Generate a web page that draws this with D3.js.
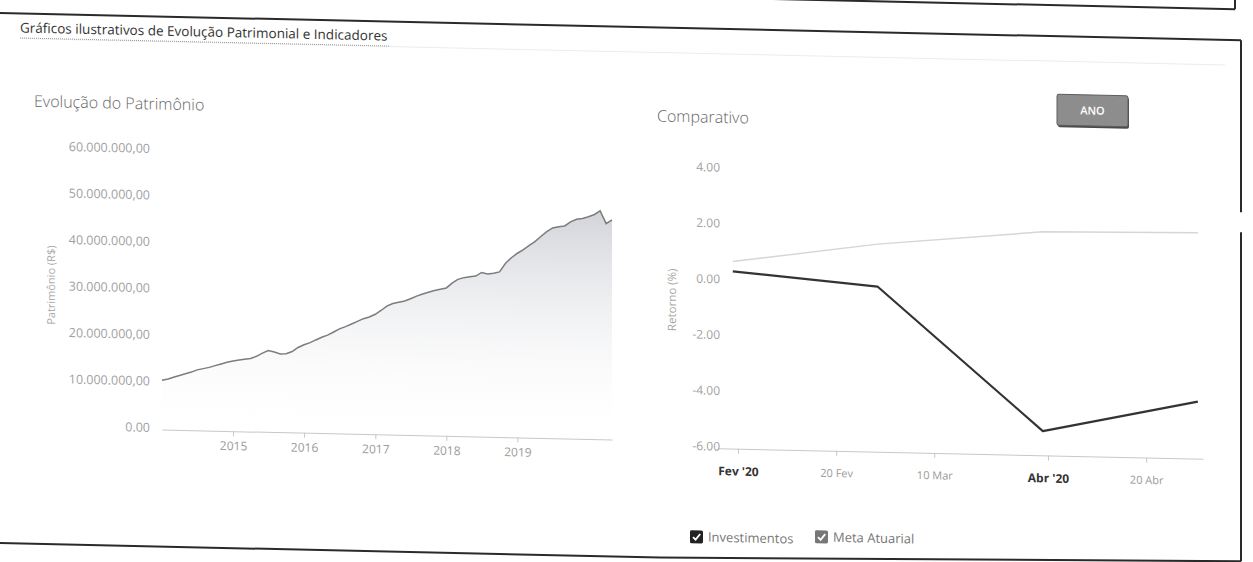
<!DOCTYPE html>
<html>
<head>
<meta charset="utf-8">
<script src="https://cdn.jsdelivr.net/npm/d3@7"></script>
<style>
  body { margin: 0; background: #fff; }
  svg { display: block; font-family: "Open Sans", "Noto Sans", sans-serif; }
</style>
</head>
<body>
<svg id="c" width="1253" height="562"></svg>
<script>
// ---------------- DATA ----------------
// Evolução do Patrimônio: monthly values (R$ millions), Jan 2014 .. May 2020
const patrimonioStart = "2014-01-01";
const patrimonioValues = [
  10.6, 10.9, 11.3, 11.7, 12.1, 12.5, 13.0, 13.3, 13.6, 14.0, 14.4, 14.8,
  15.1, 15.3, 15.5, 15.7, 16.2, 16.9, 17.5, 17.2, 16.8, 16.9, 17.4, 18.3,
  18.9, 19.4, 20.0, 20.6, 21.1, 21.8, 22.5, 23.0, 23.6, 24.2, 24.8, 25.2,
  25.8, 26.7, 27.6, 28.2, 28.5, 28.8, 29.3, 29.9, 30.4, 30.8, 31.2, 31.5,
  31.8, 32.9, 33.7, 34.1, 34.3, 34.5, 35.3, 35.0, 35.2, 35.5, 37.4, 38.6,
  39.6, 40.4, 41.3, 42.2, 43.3, 44.4, 45.2, 45.5, 45.7, 46.6, 47.2, 47.4,
  47.8, 48.3, 49.1, 46.4, 47.2
];
const patrimonioTicks = [0, 10, 20, 30, 40, 50, 60];
const patrimonioTickLabels = ["0.00", "10.000.000,00", "20.000.000,00", "30.000.000,00",
  "40.000.000,00", "50.000.000,00", "60.000.000,00"];
const yearTicks = ["2015", "2016", "2017", "2018", "2019"];

// Comparativo
const compDates = ["2020-01-31", "2020-02-28", "2020-03-31", "2020-04-30"];
const investimentos = [0.35, -0.08, -5.13, -3.95];
const metaAtuarial = [0.70, 1.44, 2.01, 2.10];
const retornoTicks = [4, 2, 0, -2, -4, -6];
const retornoTickLabels = ["4.00", "2.00", "0.00", "-2.00", "-4.00", "-6.00"];
const compTickDates = ["2020-02-01", "2020-02-20", "2020-03-10", "2020-04-01", "2020-04-20"];
const compTickLabels = ["Fev '20", "20 Fev", "10 Mar", "Abr '20", "20 Abr"];
const compTickBold = [true, false, false, true, false];
const legendNames = ["Investimentos", "Meta Atuarial"];

// ---------------- DRAW ----------------
const parse = d3.timeParse("%Y-%m-%d");
const svg = d3.select("#c");
const FONT = '"Open Sans", "Noto Sans", sans-serif';

const defs = svg.append("defs");
const grad = defs.append("linearGradient").attr("id", "areaGrad")
  .attr("x1", 0).attr("y1", 0).attr("x2", 0).attr("y2", 1);
grad.append("stop").attr("offset", "0%").attr("stop-color", "#c6c9d0").attr("stop-opacity", 0.8);
grad.append("stop").attr("offset", "100%").attr("stop-color", "#ffffff").attr("stop-opacity", 0.05);

// whole scanned page is slightly sheared
const g = svg.append("g").attr("transform", "skewY(1.26)");

// frame
const frame = g.append("g").attr("fill", "none").attr("stroke", "#2a2a2a").attr("stroke-width", 2);
frame.append("line").attr("x1", 0).attr("x2", 1235).attr("y1", -18).attr("y2", -18);
frame.append("line").attr("x1", 1235).attr("x2", 1235).attr("y1", -40).attr("y2", -18);
frame.append("line").attr("x1", 0).attr("x2", 1241).attr("y1", 13).attr("y2", 13);
frame.append("line").attr("x1", 1241).attr("x2", 1241).attr("y1", 13).attr("y2", 185);
frame.append("line").attr("x1", 1241).attr("x2", 1241).attr("y1", 205).attr("y2", 534);
frame.append("polyline").attr("points", "0,543 660,543 1241,534");

// tab title
g.append("text").attr("x", 20).attr("y", 32).attr("font-size", 13.5).attr("fill", "#333")
  .attr("font-family", FONT).text("Gráficos ilustrativos de Evolução Patrimonial e Indicadores");
g.append("line").attr("x1", 20).attr("x2", 1225).attr("y1", 38).attr("y2", 38)
  .attr("stroke", "#ececec").attr("stroke-width", 1);
g.append("line").attr("x1", 20).attr("x2", 390).attr("y1", 37.5).attr("y2", 37.5)
  .attr("stroke", "#9a9a9a").attr("stroke-width", 1).attr("stroke-dasharray", "1,1");

// ===== Left chart: Evolução do Patrimônio =====
g.append("text").attr("x", 34).attr("y", 106).attr("font-size", 16).attr("fill", "#666")
  .attr("font-family", FONT).attr("font-weight", 300).text("Evolução do Patrimônio");

const xL = d3.scaleTime().domain([parse("2014-01-01"), parse("2020-05-01")]).range([162, 612]);
const yL = d3.scaleLinear().domain([0, 60]).range([426, 147]);
const start = parse(patrimonioStart);
const pdata = patrimonioValues.map((v, i) => ({ date: d3.timeMonth.offset(start, i), v }));

g.append("path").datum(pdata)
  .attr("d", d3.area().x(d => xL(d.date)).y0(yL(0)).y1(d => yL(d.v)))
  .attr("fill", "url(#areaGrad)");
g.append("path").datum(pdata)
  .attr("d", d3.line().x(d => xL(d.date)).y(d => yL(d.v)))
  .attr("fill", "none").attr("stroke", "#7d7d7d").attr("stroke-width", 1.5);

const gxL = g.append("g").attr("transform", `translate(0,${yL(0)})`)
  .call(d3.axisBottom(xL)
    .tickValues(yearTicks.map(y => parse(y + "-01-01")))
    .tickFormat((d, i) => yearTicks[i])
    .tickSize(5).tickSizeOuter(0).tickPadding(5.5));
gxL.attr("font-family", FONT).attr("font-size", 12);
gxL.select(".domain").attr("stroke", "#c8c8c8");
gxL.selectAll(".tick line").attr("stroke", "#c8c8c8");
gxL.selectAll(".tick text").attr("fill", "#9a9a9a");

const gyL = g.append("g").attr("transform", "translate(152,0)")
  .call(d3.axisLeft(yL).tickValues(patrimonioTicks)
    .tickFormat((d, i) => patrimonioTickLabels[i]).tickSize(0).tickPadding(2));
gyL.attr("font-family", FONT).attr("font-size", 12.5);
gyL.select(".domain").remove();
gyL.selectAll(".tick text").attr("fill", "#a0a0a0").attr("y", -2);

g.append("text").attr("transform", "translate(55,284) rotate(-90)")
  .attr("text-anchor", "middle").attr("font-size", 11).attr("fill", "#aaa")
  .attr("font-family", FONT).text("Patrimônio (R$)");

// ===== Right chart: Comparativo =====
g.append("text").attr("x", 657).attr("y", 107).attr("font-size", 16).attr("fill", "#666")
  .attr("font-family", FONT).attr("font-weight", 300).text("Comparativo");

// ANO button
g.append("rect").attr("x", 1058).attr("y", 73).attr("width", 71).attr("height", 31).attr("rx", 2)
  .attr("fill", "#4a4a4a");
g.append("rect").attr("x", 1057).attr("y", 71).attr("width", 71).attr("height", 31).attr("rx", 2)
  .attr("fill", "#8d8d8d").attr("stroke", "#5e5e5e").attr("stroke-width", 1);
g.append("text").attr("x", 1092.5).attr("y", 90.5).attr("text-anchor", "middle")
  .attr("font-size", 11).attr("font-weight", 600).attr("fill", "#fff")
  .attr("font-family", FONT).text("ANO");

const xR = d3.scaleTime().domain([parse("2020-01-28"), parse("2020-05-01")]).range([717.3, 1203]);
const yR = d3.scaleLinear().domain([-6, 4]).range([432.4, 153.4]);

const gxR = g.append("g").attr("transform", `translate(0,${yR(-6)})`)
  .call(d3.axisBottom(xR)
    .tickValues(compTickDates.map(parse))
    .tickFormat((d, i) => compTickLabels[i])
    .tickSize(5).tickSizeOuter(0).tickPadding(13.5));
gxR.attr("font-family", FONT).attr("font-size", 12);
gxR.select(".domain").attr("stroke", "#c8c8c8");
gxR.selectAll(".tick line").attr("stroke", "#c8c8c8");
gxR.selectAll(".tick text")
  .attr("fill", (d, i) => compTickBold[i] ? "#333" : "#9a9a9a")
  .attr("font-size", (d, i) => compTickBold[i] ? 12 : 11)
  .attr("font-weight", (d, i) => compTickBold[i] ? 700 : 400);

const gyR = g.append("g").attr("transform", "translate(722,0)")
  .call(d3.axisLeft(yR).tickValues(retornoTicks)
    .tickFormat((d, i) => retornoTickLabels[i]).tickSize(0).tickPadding(2));
gyR.attr("font-family", FONT).attr("font-size", 12);
gyR.select(".domain").remove();
gyR.selectAll(".tick text").attr("fill", "#a0a0a0").attr("y", -2);

g.append("text").attr("transform", "translate(676,285) rotate(-90)")
  .attr("text-anchor", "middle").attr("font-size", 11.5).attr("fill", "#aaa")
  .attr("font-family", FONT).text("Retorno (%)");

const cd = compDates.map(parse);
const lineR = d3.line().x(d => xR(d.date)).y(d => yR(d.v));
g.append("path").datum(cd.map((d, i) => ({ date: d, v: metaAtuarial[i] })))
  .attr("d", lineR).attr("fill", "none").attr("stroke", "#d6d6d6").attr("stroke-width", 1.5);
g.append("path").datum(cd.map((d, i) => ({ date: d, v: investimentos[i] })))
  .attr("d", lineR).attr("fill", "none").attr("stroke", "#333").attr("stroke-width", 2.2)
  .attr("stroke-linejoin", "round");

// legend
const legColors = ["#222", "#777"];
const legX = [690, 815];
legendNames.forEach((name, i) => {
  const lx = legX[i], ly = 515 - i * 2.6;
  g.append("rect").attr("x", lx).attr("y", ly).attr("width", 13).attr("height", 13).attr("rx", 1.5)
    .attr("fill", legColors[i]);
  g.append("path").attr("d", `M${lx + 3},${ly + 6.8} L${lx + 5.6},${ly + 9.4} L${lx + 10.2},${ly + 3.6}`)
    .attr("fill", "none").attr("stroke", "#fff").attr("stroke-width", 1.8);
  g.append("text").attr("x", lx + 18).attr("y", ly + 11).attr("font-size", 13)
    .attr("fill", "#777").attr("font-family", FONT).text(name);
});
</script>
</body>
</html>
